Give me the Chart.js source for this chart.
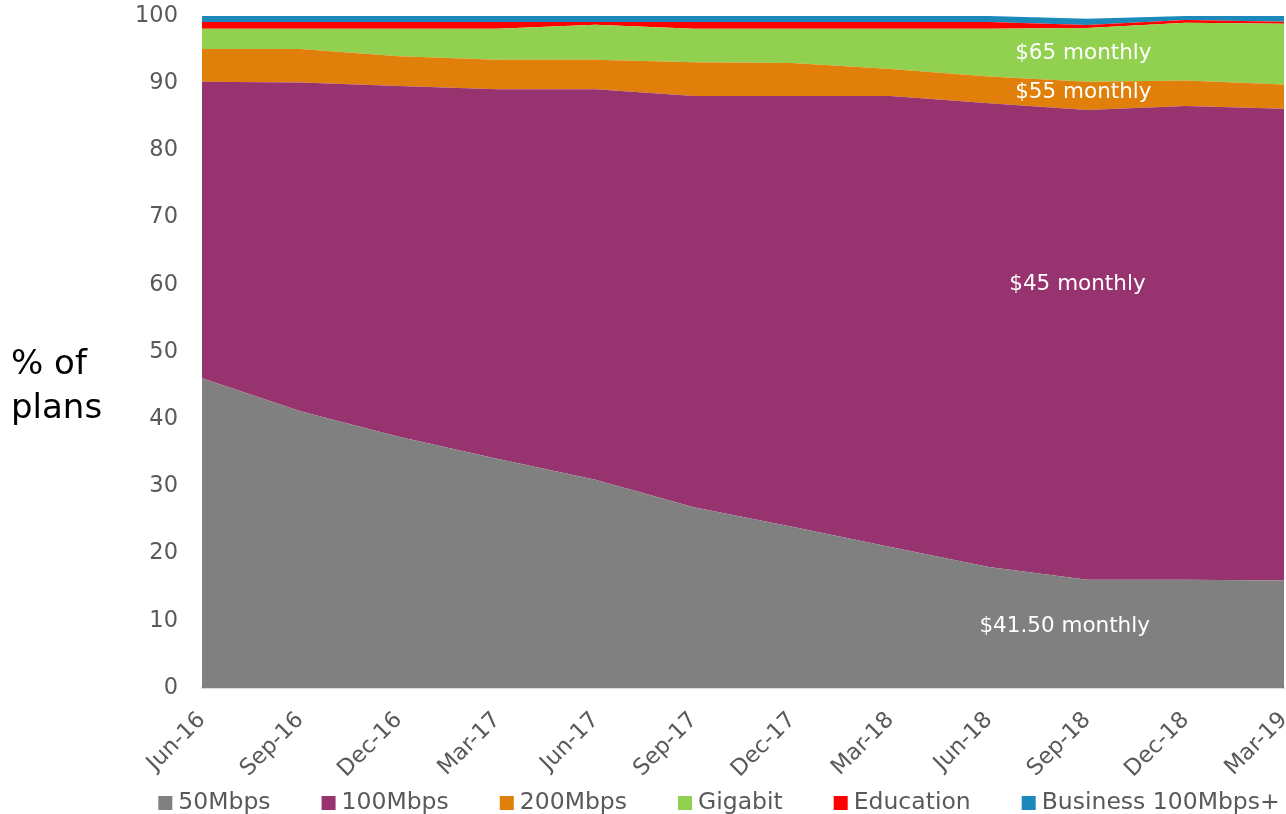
<!DOCTYPE html>
<html>
<head>
<meta charset="utf-8">
<script src="https://cdn.jsdelivr.net/npm/chart.js@4/dist/chart.umd.min.js"></script>
<style>
  html, body { margin: 0; padding: 0; background: #fff; }
  #wrap { width: 1286px; height: 814px; position: relative; }
</style>
</head>
<body>
<div id="wrap"><canvas id="c"></canvas></div>
<script>
// quarters
const quarters = ['Jun-16', 'Sep-16', 'Dec-16', 'Mar-17', 'Jun-17', 'Sep-17',
                  'Dec-17', 'Mar-18', 'Jun-18', 'Sep-18', 'Dec-18', 'Mar-19'];

// share of plans (%) per tier, stacked bottom to top
const plan50   = [46.1, 41.2, 37.4, 34.1, 31.0, 26.9, 24.0, 21.0, 18.0, 16.1, 16.1, 16.0];
const plan100  = [44.1, 48.9, 52.2, 55.0, 58.1, 61.2, 64.1, 67.1, 69.0, 69.9, 70.5, 70.2];
const plan200  = [4.9, 5.0, 4.4, 4.4, 4.4, 5.0, 4.9, 4.0, 4.0, 4.2, 3.8, 3.6];
const gigabit  = [3.0, 3.0, 4.1, 4.6, 5.2, 5.0, 5.1, 6.0, 7.1, 8.0, 8.6, 9.05];
const education = [1.0, 1.0, 1.0, 1.0, 0.4, 1.0, 1.0, 1.0, 1.0, 0.45, 0.4, 0.3];
const business = [0.9, 0.9, 0.9, 0.9, 0.9, 0.9, 0.9, 0.9, 0.9, 0.95, 0.6, 0.85];

const yTicks = [0, 10, 20, 30, 40, 50, 60, 70, 80, 90, 100];

// price notes written on the areas (data coordinates)
const priceNotes = [
  { text: '$65 monthly',    x: 8.96, y: 94.5 },
  { text: '$55 monthly',    x: 8.96, y: 88.7 },
  { text: '$45 monthly',    x: 8.9,  y: 60.0 },
  { text: '$41.50 monthly', x: 8.77, y: 9.2 }
];

const FONT = '"DejaVu Sans", Verdana, sans-serif';

function area(label, data, color, fill) {
  return {
    label: label, data: data,
    backgroundColor: color, borderColor: color,
    borderWidth: 0, pointRadius: 0, pointHoverRadius: 0,
    tension: 0, fill: fill
  };
}

const extras = {
  id: 'extras',
  afterDatasetsDraw(chart) {
    const ctx = chart.ctx;
    const xs = chart.scales.x, ys = chart.scales.y;
    ctx.save();
    ctx.fillStyle = '#ffffff';
    ctx.font = '21.5px ' + FONT;
    ctx.textAlign = 'center';
    ctx.textBaseline = 'middle';
    priceNotes.forEach(n => {
      ctx.fillText(n.text, xs.getPixelForValue(n.x), ys.getPixelForValue(n.y));
    });

    // axis title, horizontal on two lines
    ctx.fillStyle = '#000000';
    ctx.font = '34px ' + FONT;
    ctx.textAlign = 'left';
    ctx.textBaseline = 'alphabetic';
    ctx.fillText('% of', 11, 374);
    ctx.fillText('plans', 11, 418);

    // legend row along the bottom
    ctx.font = '23.5px ' + FONT;
    ctx.textBaseline = 'middle';
    const box = 14, gapText = 6, gapItem = 51;
    const items = chart.data.datasets.map(d => ({
      label: d.label, color: d.backgroundColor,
      w: box + gapText + ctx.measureText(d.label).width
    }));
    const total = items.reduce((a, it) => a + it.w, 0) + gapItem * (items.length - 1);
    let x = 719 - total / 2;
    const y = 803;
    items.forEach(it => {
      ctx.fillStyle = it.color;
      ctx.fillRect(x, y - box / 2, box, box);
      ctx.fillStyle = '#595959';
      ctx.fillText(it.label, x + box + gapText, y);
      x += it.w + gapItem;
    });
    ctx.restore();
  }
};

new Chart(document.getElementById('c'), {
  type: 'line',
  data: {
    labels: quarters,
    datasets: [
      area('50Mbps', plan50, '#808080', 'origin'),
      area('100Mbps', plan100, '#97336f', '-1'),
      area('200Mbps', plan200, '#e0800a', '-1'),
      area('Gigabit', gigabit, '#92d050', '-1'),
      area('Education', education, '#ff0000', '-1'),
      area('Business 100Mbps+', business, '#1b8abb', '-1')
    ]
  },
  options: {
    responsive: true,
    maintainAspectRatio: false,
    animation: false,
    layout: { padding: { top: 16, right: 2, left: 0, bottom: 0 } },
    plugins: {
      tooltip: { enabled: false },
      legend: { display: false }
    },
    scales: {
      x: {
        stacked: true,
        offset: false,
        grid: { display: false, drawTicks: false },
        border: { display: true, color: '#d9d9d9', width: 2 },
        ticks: {
          color: '#595959',
          font: { family: FONT, size: 22.5 },
          minRotation: 45, maxRotation: 45,
          autoSkip: false, padding: 19
        },
        afterFit: s => {
          s.height = 126;
          s.paddingLeft = 0;
          s.paddingRight = 0;
        }
      },
      y: {
        stacked: true,
        min: 0, max: 100,
        afterBuildTicks: s => { s.ticks = yTicks.map(v => ({ value: v })); },
        grid: { display: false, drawTicks: false },
        border: { display: false },
        ticks: {
          color: '#595959',
          font: { family: FONT, size: 22.5 },
          padding: 24
        },
        afterFit: s => {
          s.width = 202;
          s.paddingTop = 0;
          s.paddingBottom = 0;
        }
      }
    }
  },
  plugins: [extras]
});
</script>
</body>
</html>
